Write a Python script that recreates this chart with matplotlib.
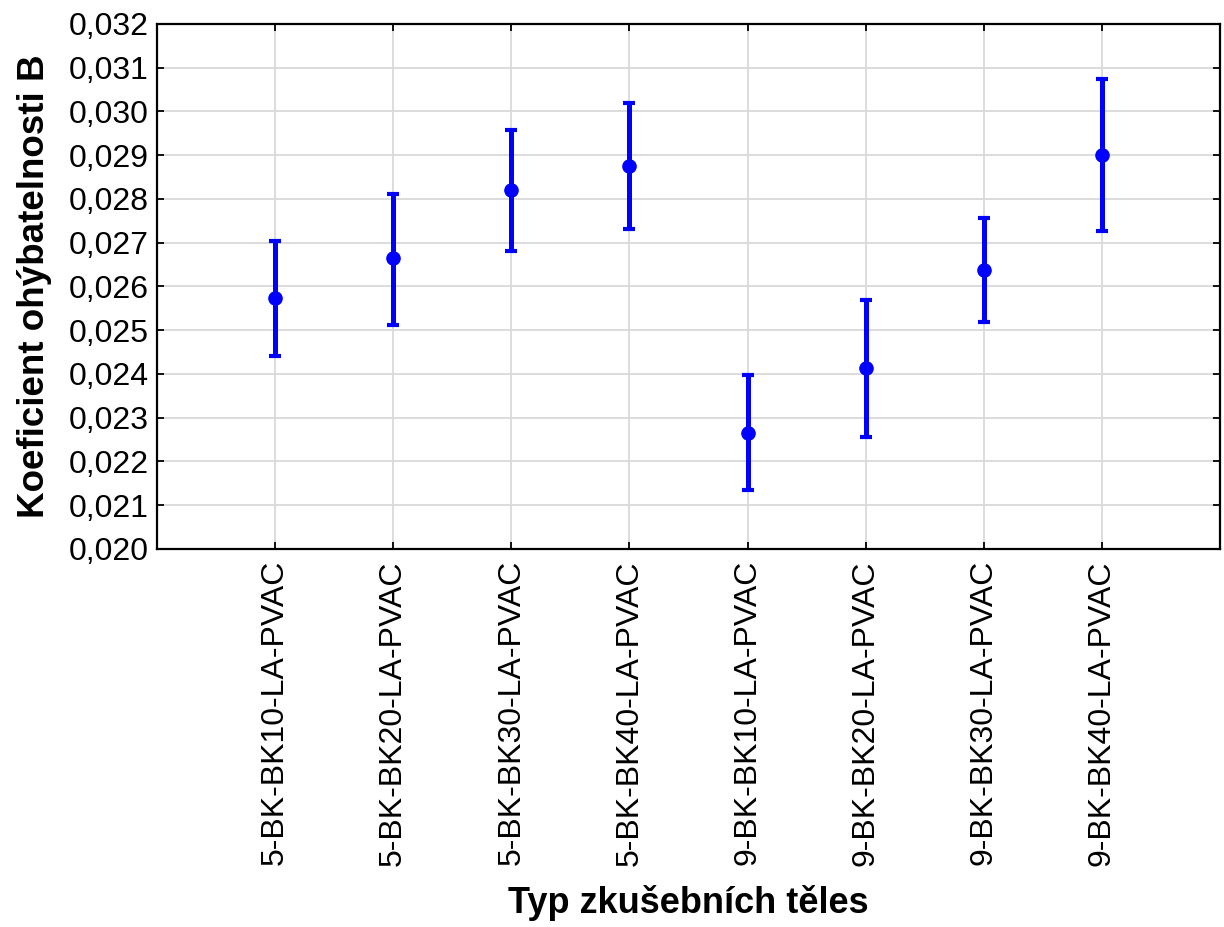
import matplotlib
matplotlib.use("Agg")
import matplotlib.pyplot as plt
from matplotlib.ticker import FuncFormatter, MultipleLocator

plt.rcParams['font.family'] = ['Liberation Sans', 'DejaVu Sans']

categories = ["5-BK-BK10-LA-PVAC", "5-BK-BK20-LA-PVAC", "5-BK-BK30-LA-PVAC", "5-BK-BK40-LA-PVAC",
              "9-BK-BK10-LA-PVAC", "9-BK-BK20-LA-PVAC", "9-BK-BK30-LA-PVAC", "9-BK-BK40-LA-PVAC"]
means = [0.02574, 0.02665, 0.02820, 0.02876, 0.02265, 0.02414, 0.02637, 0.02901]
upper = [0.02704, 0.02812, 0.02958, 0.03019, 0.02398, 0.02570, 0.02757, 0.03075]
lower = [0.02441, 0.02513, 0.02681, 0.02732, 0.02134, 0.02256, 0.02518, 0.02727]

fig = plt.figure(figsize=(12.24, 9.27), dpi=100)
ax = fig.add_axes([157/1224, 1-549/927, (1220-157)/1224, (549-24)/927])

x = list(range(1, len(categories) + 1))
yerr = [[m - l for m, l in zip(means, lower)], [u - m for m, u in zip(means, upper)]]
ax.errorbar(x, means, yerr=yerr, fmt='o', color='#0000FF', ecolor='#0000FF',
            elinewidth=3.6, capsize=4.5, capthick=3.0, markersize=9.5, zorder=3)

ax.set_xlim(0, 9)
ax.set_ylim(0.020, 0.032)
ax.yaxis.set_major_locator(MultipleLocator(0.001))
ax.yaxis.set_major_formatter(FuncFormatter(lambda v, p: f"{v:.3f}".replace('.', ',')))
ax.set_xticks(x)
ax.set_xticklabels(categories, rotation=90)

ax.grid(True, color='#d9d9d9', linewidth=1.3, zorder=0)
ax.set_axisbelow(True)
for s in ax.spines.values():
    s.set_linewidth(1.6)
ax.tick_params(axis='both', direction='in', length=5, width=1.3, labelsize=23,
               top=True, right=True, pad=6)
ax.tick_params(axis='x', pad=8)

ax.set_xlabel("Typ zkušebních těles", fontsize=26, fontweight='bold', labelpad=14)
ax.set_ylabel("Koeficient ohýbatelnosti B", fontsize=26.5, fontweight='bold', labelpad=12)

fig.savefig("out.png", dpi=100)
